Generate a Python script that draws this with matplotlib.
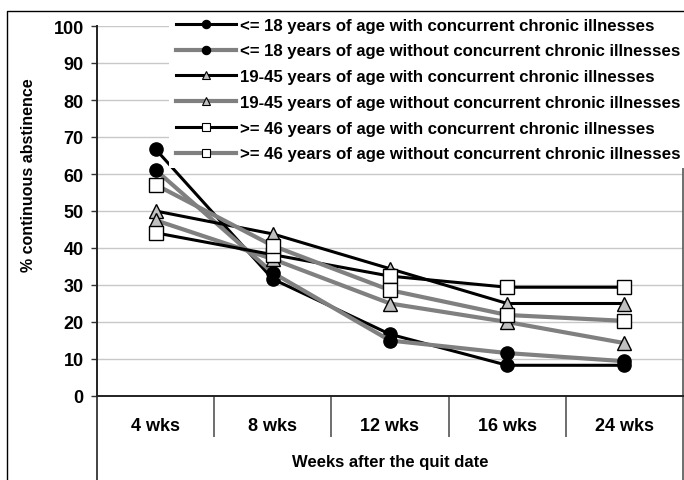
import matplotlib
matplotlib.use("Agg")
import matplotlib.pyplot as plt
import matplotlib.transforms as mtransforms
from matplotlib.lines import Line2D

# ---- data -------------------------------------------------------------
categories = ["4 wks", "8 wks", "12 wks", "16 wks", "24 wks"]
y_ticks = [0, 10, 20, 30, 40, 50, 60, 70, 80, 90, 100]

le18_with = [66.7, 31.6, 16.7, 8.3, 8.3]
le18_without = [61.1, 33.3, 15.0, 11.6, 9.4]
age19_45_with = [50.0, 43.8, 34.4, 25.0, 25.0]
age19_45_without = [47.5, 37.0, 25.0, 20.0, 14.3]
ge46_with = [44.1, 38.2, 32.4, 29.4, 29.4]
ge46_without = [57.1, 40.6, 28.6, 21.9, 20.3]

series_labels = [
    "<= 18 years of age with concurrent chronic illnesses",
    "<= 18 years of age without concurrent chronic illnesses",
    "19-45 years of age with concurrent chronic illnesses",
    "19-45 years of age without concurrent chronic illnesses",
    ">= 46 years of age with concurrent chronic illnesses",
    ">= 46 years of age without concurrent chronic illnesses",
]
series_values = [le18_with, le18_without, age19_45_with,
                 age19_45_without, ge46_with, ge46_without]

# ---- styles -----------------------------------------------------------
BLACK = "#000000"
GRAY = "#808080"
styles = [
    dict(color=BLACK, lw=2.2, marker="o", mfc=BLACK),
    dict(color=GRAY, lw=3.0, marker="o", mfc=BLACK),
    dict(color=BLACK, lw=2.2, marker="^", mfc="#c0c0c0"),
    dict(color=GRAY, lw=3.0, marker="^", mfc="#c0c0c0"),
    dict(color=BLACK, lw=2.2, marker="s", mfc="white"),
    dict(color=GRAY, lw=3.0, marker="s", mfc="white"),
]

plt.rcParams["font.family"] = ["Liberation Sans", "DejaVu Sans"]
plt.rcParams["font.weight"] = "bold"

W, H = 684, 481
fig = plt.figure(figsize=(W / 100, H / 100), dpi=100)
fig.patch.set_facecolor("white")

left, right, bottom, top = 97, 683, 397, 27
ax = fig.add_axes([left / W, 1 - bottom / H, (right - left) / W, (bottom - top) / H])

x = list(range(len(categories)))
for vals, st in zip(series_values, styles):
    ax.plot(x, vals, color=st["color"], lw=st["lw"], marker=st["marker"],
            markersize=9.5, markerfacecolor=st["mfc"], markeredgecolor=BLACK,
            markeredgewidth=1.0, solid_joinstyle="round", zorder=3)

ax.set_xlim(-0.5, len(categories) - 0.5)
ax.set_ylim(0, 100)
ax.set_yticks(y_ticks)
ax.set_yticklabels([str(v) for v in y_ticks], fontsize=13, fontweight="bold")
ax.tick_params(axis="y", direction="out", length=4.5, width=1.0, pad=5,
               color="#333333")

ax.set_xticks(x)
ax.set_xticklabels(categories, fontsize=13, fontweight="bold")
ax.tick_params(axis="x", which="major", length=0, pad=15)
# category separators hanging below the axis
ax.set_xticks([i + 0.5 for i in range(len(categories) - 1)], minor=True)
ax.tick_params(axis="x", which="minor", direction="out", length=29.5,
               width=1.2, color="#555555")

ax.yaxis.grid(True, color="#c8c8c8", lw=1.0)
ax.set_axisbelow(True)

for side in ("left", "bottom"):
    ax.spines[side].set_color("#222222")
    ax.spines[side].set_linewidth(1.4)
ax.spines["top"].set_visible(False)
ax.spines["right"].set_color("#555555")
ax.spines["right"].set_linewidth(1.2)

# outer edges of the category area reach the bottom of the figure
trans = mtransforms.blended_transform_factory(ax.transData, ax.transAxes)
for xe, c in ((-0.5, "#222222"), (len(categories) - 0.5, "#555555")):
    ax.add_line(Line2D([xe, xe], [0, -0.3], transform=trans, color=c,
                       lw=1.2, clip_on=False))

ax.set_ylabel("% continuous abstinence", fontsize=11.5, fontweight="bold")
ax.yaxis.set_label_coords((36 - left) / (right - left), 0.60)
ax.set_xlabel("Weeks after the quit date", fontsize=12, fontweight="bold")
ax.xaxis.set_label_coords(0.5, (bottom - 463) / (bottom - top))
ax.xaxis.label.set_va("center")

handles = [Line2D([], [], color=st["color"], lw=st["lw"], marker=st["marker"],
                  markersize=6, markerfacecolor=st["mfc"],
                  markeredgecolor=BLACK, markeredgewidth=0.8)
           for st in styles]
leg = ax.legend(handles, series_labels, loc="upper left",
                bbox_to_anchor=(169 / W, 1 - 12 / H),
                bbox_transform=fig.transFigure,
                prop=dict(family=["Liberation Sans", "DejaVu Sans"],
                          weight="bold", size=12.1),
                handlelength=3.6, handletextpad=0.25, labelspacing=0.64,
                borderpad=0.4, borderaxespad=0, frameon=True, fancybox=False)
leg.get_frame().set_facecolor("white")
leg.get_frame().set_edgecolor("none")
leg.get_frame().set_alpha(1.0)
leg.set_zorder(5)

# figure border (left and top edges)
fig.add_artist(Line2D([7 / W, 7 / W, 1.01], [-0.01, 1 - 12 / H, 1 - 12 / H],
                      transform=fig.transFigure, color=BLACK, lw=1.0))

fig.savefig("out.png", dpi=100, facecolor="white")
